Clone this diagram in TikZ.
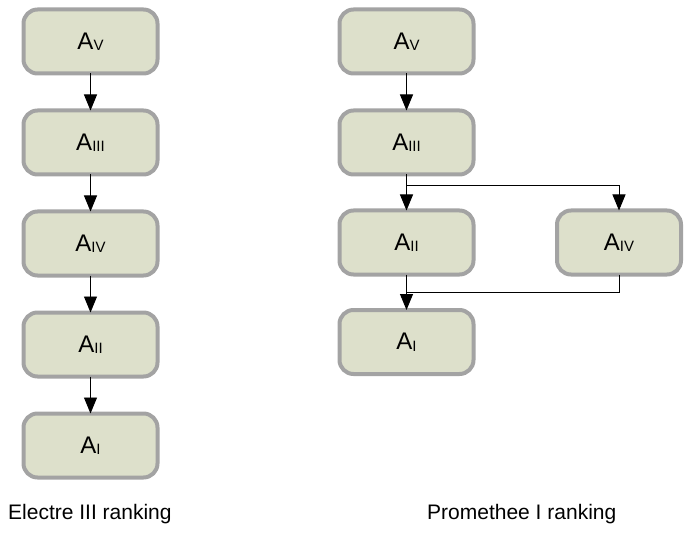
\documentclass[tikz,border=0pt]{standalone}
\usepackage{fontspec}
\setmainfont{Liberation Sans}
\usetikzlibrary{arrows.meta}
\definecolor{boxfill}{HTML}{DDE0CB}
\definecolor{boxline}{HTML}{A3A3A3}
\newcommand{\alt}[1]{\fontsize{24}{24}\selectfont A\raisebox{-1.5pt}{\fontsize{15}{15}\selectfont #1}}
\tikzset{
  altbox/.style={draw=boxline, fill=boxfill, line width=4pt, rounded corners=14pt,
    minimum width=134pt, minimum height=64pt, inner sep=0pt, outer sep=0pt},
  narrowbox/.style={altbox, minimum width=124pt},
  arr/.style={draw=black, line width=0.9pt, -{Triangle[length=16pt,width=13pt]}},
  plain/.style={draw=black, line width=0.9pt},
  caption/.style={font=\fontsize{21}{21}\selectfont, inner sep=0pt, anchor=base west}
}
\begin{document}
\begin{tikzpicture}[x=1pt,y=1pt]
\useasboundingbox (0,0) rectangle (684,-534);
% Electre III column
\node[altbox] (e1) at (90.5,-41.5) {\alt{V}};
\node[altbox] (e2) at (90.5,-142.5) {\alt{III}};
\node[altbox] (e3) at (90.5,-243.5) {\alt{IV}};
\node[altbox] (e4) at (90.5,-344.5) {\alt{II}};
\node[altbox] (e5) at (90.5,-445.5) {\alt{I}};
\draw[arr] (e1.south) -- (e2.north);
\draw[arr] (e2.south) -- (e3.north);
\draw[arr] (e3.south) -- (e4.north);
\draw[arr] (e4.south) -- (e5.north);
% Promethee I column
\node[altbox] (p1) at (406.5,-41.5) {\alt{V}};
\node[altbox] (p2) at (406.5,-142.5) {\alt{III}};
\node[altbox] (p3) at (406.5,-242.5) {\alt{II}};
\node[narrowbox] (p4) at (619,-242.5) {\alt{IV}};
\node[altbox] (p5) at (406.5,-342) {\alt{I}};
\coordinate (j1) at (406.5,-185);
\coordinate (j2) at (406.5,-292);
\draw[arr] (p1.south) -- (p2.north);
\draw[arr] (p2.south) -- (p3.north);
\draw[arr] (j1) -| (p4.north);
\draw[arr] (p3.south) -- (p5.north);
\draw[plain] (p4.south) |- (j2);
% captions
\node[caption] (c1) at (8,-519) {Electre III ranking};
\node[caption] (c2) at (427,-519) {Promethee I ranking};
\end{tikzpicture}
\end{document}
